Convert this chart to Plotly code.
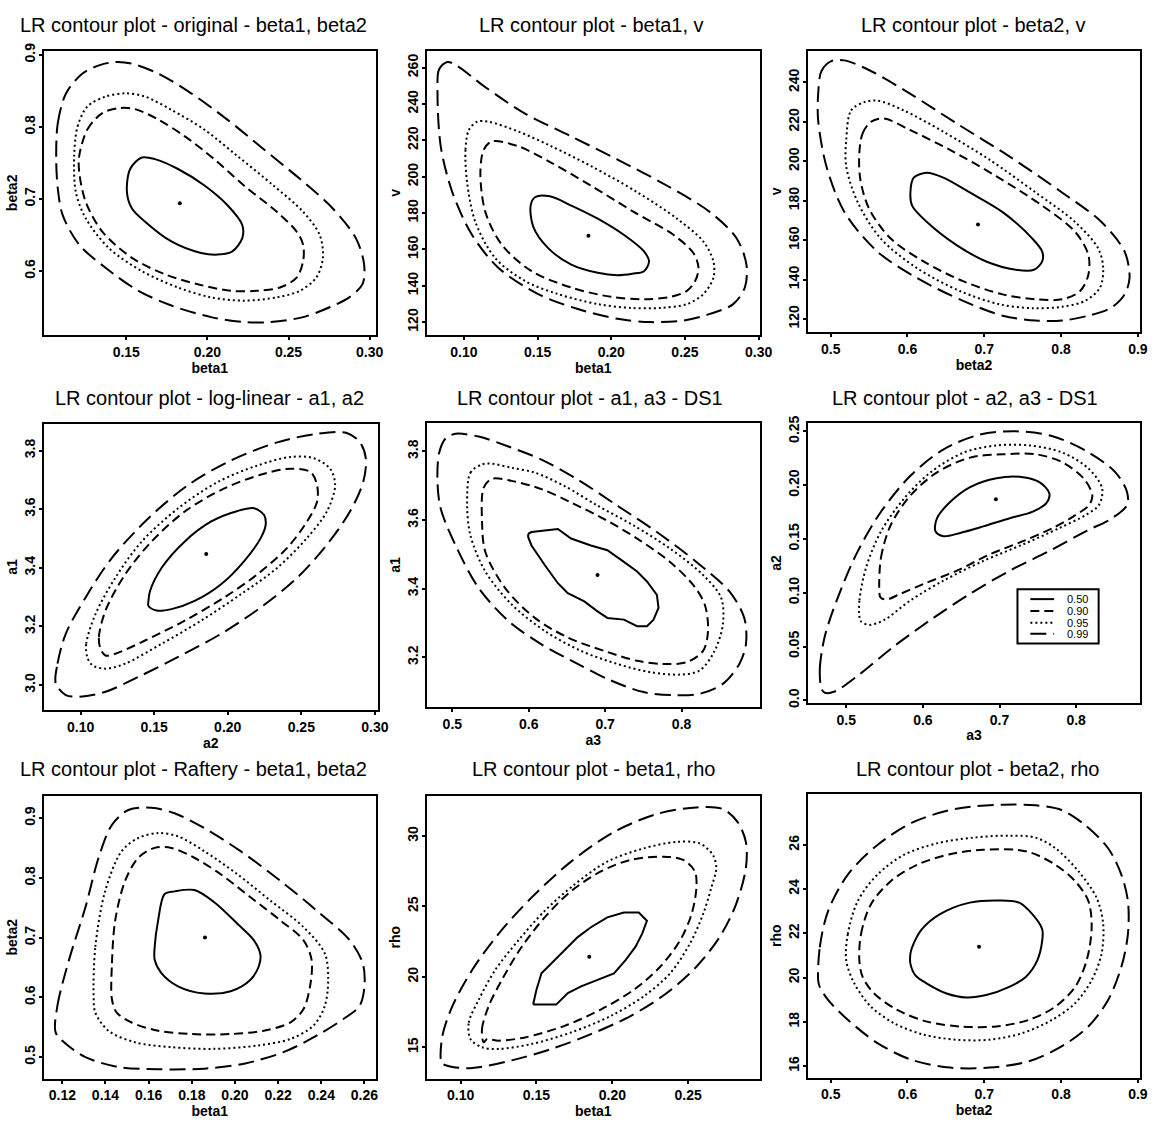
import plotly.graph_objects as go

W, H = 1172, 1130

LEVELS = ["0.50", "0.90", "0.95", "0.99"]
DASH = {"0.50": "solid", "0.90": "9px,5px", "0.95": "2px,3px", "0.99": "16px,7px"}

# ---------------------------------------------------------------------------
# Panel 1: original model, beta1 vs beta2
P1_MLE = (0.183, 0.694)
P1_050 = [(0.1504, 0.7096), (0.1524, 0.7416), (0.1596, 0.7575), (0.1677, 0.7553), (0.1819, 0.7416),
          (0.1982, 0.7187), (0.2124, 0.6913), (0.2215, 0.6639), (0.2215, 0.6457), (0.2154, 0.6274),
          (0.2063, 0.6228), (0.1961, 0.6251), (0.1778, 0.6411), (0.1616, 0.6685), (0.1535, 0.6868)]
P1_090 = [(0.1210, 0.7598), (0.1260, 0.7963), (0.1352, 0.8192), (0.1453, 0.8260), (0.1555, 0.8247),
          (0.1697, 0.8101), (0.1859, 0.7872), (0.2042, 0.7553), (0.2225, 0.7187), (0.2428, 0.6822),
          (0.2550, 0.6548), (0.2590, 0.6365), (0.2590, 0.6137), (0.2550, 0.5909), (0.2448, 0.5772),
          (0.2306, 0.5726), (0.2144, 0.5726), (0.1940, 0.5817), (0.1738, 0.5955), (0.1535, 0.6183),
          (0.1352, 0.6548), (0.1250, 0.6959), (0.1210, 0.7370)]
P1_095 = [(0.1179, 0.7598), (0.1200, 0.8009), (0.1260, 0.8283), (0.1372, 0.8420), (0.1494, 0.8466),
          (0.1616, 0.8420), (0.1778, 0.8237), (0.1981, 0.7963), (0.2184, 0.7598), (0.2407, 0.7187),
          (0.2590, 0.6822), (0.2692, 0.6502), (0.2712, 0.6183), (0.2671, 0.5909), (0.2570, 0.5726),
          (0.2428, 0.5635), (0.2225, 0.5589), (0.2022, 0.5635), (0.1819, 0.5772), (0.1595, 0.6000),
          (0.1392, 0.6320), (0.1250, 0.6731), (0.1189, 0.7096)]
P1_099 = [(0.1068, 0.7553), (0.1078, 0.8055), (0.1129, 0.8466), (0.1230, 0.8740), (0.1332, 0.8854),
          (0.1433, 0.8900), (0.1535, 0.8877), (0.1697, 0.8740), (0.1900, 0.8466), (0.2123, 0.8101),
          (0.2347, 0.7690), (0.2570, 0.7279), (0.2773, 0.6868), (0.2915, 0.6457), (0.2966, 0.6092),
          (0.2956, 0.5818), (0.2874, 0.5635), (0.2753, 0.5498), (0.2590, 0.5361), (0.2387, 0.5292),
          (0.2225, 0.5292), (0.2022, 0.5361), (0.1778, 0.5521), (0.1575, 0.5726), (0.1372, 0.6046),
          (0.1210, 0.6365), (0.1108, 0.6776), (0.1078, 0.7142)]

# Panel 2: beta1 vs v
P2_MLE = (0.1845, 167.5)
P2_050 = [(0.1453, 184.1), (0.1482, 188.7), (0.1583, 189.2), (0.1729, 184.1), (0.1908, 176.9),
          (0.2087, 167.9), (0.2222, 158.9), (0.2256, 153.4), (0.2222, 148.0), (0.2143, 146.6),
          (0.2043, 145.8), (0.1908, 147.1), (0.1729, 151.6), (0.1572, 160.7), (0.1471, 172.4)]
P2_090 = [(0.1112, 202.2), (0.1135, 214.9), (0.1191, 219.4), (0.1370, 216.7), (0.1594, 207.6),
          (0.1863, 195.0), (0.2155, 180.5), (0.2424, 167.9), (0.2558, 157.9), (0.2592, 149.8),
          (0.2569, 142.6), (0.2513, 137.2), (0.2401, 133.9), (0.2222, 132.6), (0.1998, 133.9),
          (0.1729, 139.0), (0.1460, 148.0), (0.1258, 162.5), (0.1146, 180.5)]
P2_095 = [(0.1022, 196.8), (0.1011, 214.9), (0.1034, 225.7), (0.1090, 230.2), (0.1168, 230.2),
          (0.1370, 224.8), (0.1594, 216.7), (0.1863, 205.8), (0.2177, 191.4), (0.2446, 176.9),
          (0.2625, 164.3), (0.2693, 153.4), (0.2693, 144.4), (0.2625, 135.4), (0.2513, 129.9),
          (0.2334, 127.8), (0.2132, 127.8), (0.1908, 129.9), (0.1639, 135.4), (0.1415, 142.6),
          (0.1213, 155.2), (0.1078, 175.1)]
P2_099 = [(0.0821, 247.4), (0.0832, 259.1), (0.0888, 263.1), (0.0955, 260.9), (0.1146, 249.2),
          (0.1415, 234.7), (0.1729, 222.1), (0.2043, 209.4), (0.2379, 195.0), (0.2670, 180.5),
          (0.2850, 166.1), (0.2917, 151.6), (0.2906, 139.0), (0.2827, 129.9), (0.2670, 124.5),
          (0.2491, 120.9), (0.2267, 120.0), (0.2043, 121.8), (0.1773, 127.2), (0.1504, 135.4),
          (0.1235, 149.8), (0.1056, 167.9), (0.0922, 191.4), (0.0843, 216.7)]

# Panel 3: beta2 vs v
P3_MLE = (0.6918, 168.0)
P3_050 = [(0.6038, 184.2), (0.6081, 191.7), (0.6253, 194.2), (0.6467, 191.7), (0.6810, 184.2),
          (0.7239, 174.2), (0.7626, 160.8), (0.7754, 154.2), (0.7754, 149.2), (0.7647, 145.0),
          (0.7411, 145.0), (0.7025, 149.2), (0.6639, 157.5), (0.6253, 169.2), (0.6060, 177.5)]
P3_090 = [(0.5373, 204.2), (0.5416, 214.2), (0.5523, 220.0), (0.5695, 221.7), (0.6038, 215.8),
          (0.6553, 205.8), (0.7154, 192.5), (0.7754, 177.5), (0.8183, 164.2), (0.8355, 152.5),
          (0.8355, 142.5), (0.8248, 134.2), (0.8012, 130.0), (0.7668, 130.0), (0.7239, 132.5),
          (0.6724, 139.2), (0.6210, 149.2), (0.5781, 160.8), (0.5502, 175.8), (0.5386, 190.8)]
P3_095 = [(0.5202, 210.8), (0.5266, 225.8), (0.5438, 230.0), (0.5609, 230.8), (0.5952, 225.8),
          (0.6467, 215.0), (0.7068, 200.8), (0.7668, 184.2), (0.8183, 169.2), (0.8483, 155.8),
          (0.8548, 145.8), (0.8505, 135.8), (0.8312, 129.2), (0.8012, 126.2), (0.7625, 125.5),
          (0.7196, 127.5), (0.6682, 134.2), (0.6124, 145.8), (0.5652, 160.8), (0.5352, 179.2),
          (0.5202, 197.5)]
P3_099 = [(0.4837, 234.2), (0.4880, 245.8), (0.5009, 250.8), (0.5180, 251.2), (0.5523, 245.8),
          (0.6038, 234.2), (0.6639, 219.2), (0.7325, 202.5), (0.8012, 184.2), (0.8526, 169.2),
          (0.8827, 154.2), (0.8891, 140.8), (0.8827, 132.5), (0.8655, 125.8), (0.8355, 121.7),
          (0.8012, 119.2), (0.7668, 119.2), (0.7239, 121.7), (0.6724, 129.2), (0.6124, 140.8),
          (0.5609, 154.2), (0.5180, 174.2), (0.4944, 197.5), (0.4837, 220.8)]

# Panel 4: log-linear model, a2 vs a1
P4_MLE = (0.1854, 3.447)
P4_050 = [(0.1461, 3.287), (0.1472, 3.321), (0.1551, 3.400), (0.1708, 3.490), (0.1888, 3.558),
          (0.2067, 3.594), (0.2180, 3.603), (0.2247, 3.580), (0.2258, 3.547), (0.2225, 3.502),
          (0.2112, 3.423), (0.1955, 3.344), (0.1775, 3.287), (0.1618, 3.259), (0.1517, 3.254),
          (0.1461, 3.270)]
P4_090 = [(0.1135, 3.124), (0.1124, 3.163), (0.1169, 3.254), (0.1303, 3.378), (0.1483, 3.490),
          (0.1708, 3.592), (0.1977, 3.671), (0.2247, 3.721), (0.2427, 3.738), (0.2562, 3.727),
          (0.2607, 3.682), (0.2607, 3.625), (0.2539, 3.558), (0.2404, 3.468), (0.2202, 3.378),
          (0.1977, 3.299), (0.1708, 3.220), (0.1438, 3.152), (0.1236, 3.107), (0.1169, 3.101)]
P4_095 = [(0.1045, 3.096), (0.1038, 3.141), (0.1101, 3.242), (0.1236, 3.366), (0.1416, 3.490),
          (0.1663, 3.603), (0.1933, 3.693), (0.2202, 3.749), (0.2427, 3.778), (0.2584, 3.774),
          (0.2696, 3.738), (0.2730, 3.682), (0.2674, 3.592), (0.2539, 3.502), (0.2337, 3.400),
          (0.2090, 3.310), (0.1820, 3.220), (0.1551, 3.141), (0.1303, 3.073), (0.1169, 3.056),
          (0.1079, 3.068)]
P4_099 = [(0.0831, 3.006), (0.0843, 3.073), (0.0899, 3.175), (0.1034, 3.299), (0.1213, 3.434),
          (0.1461, 3.569), (0.1730, 3.682), (0.2022, 3.766), (0.2337, 3.828), (0.2607, 3.857),
          (0.2809, 3.860), (0.2899, 3.828), (0.2939, 3.772), (0.2921, 3.693), (0.2831, 3.592),
          (0.2674, 3.479), (0.2472, 3.366), (0.2225, 3.265), (0.1955, 3.175), (0.1663, 3.096),
          (0.1393, 3.028), (0.1169, 2.977), (0.1011, 2.961), (0.0899, 2.966)]

# Panel 5: a3 vs a1, data set DS1
P5_MLE = (0.690, 3.440)
P5_050 = [(0.5993, 3.560), (0.6036, 3.565), (0.6381, 3.574), (0.6554, 3.546), (0.6813, 3.526),
          (0.7029, 3.512), (0.7245, 3.478), (0.7418, 3.450), (0.7547, 3.421), (0.7677, 3.382),
          (0.7698, 3.344), (0.7633, 3.310), (0.7547, 3.291), (0.7418, 3.291), (0.7245, 3.310),
          (0.7029, 3.315), (0.6900, 3.334), (0.6727, 3.363), (0.6511, 3.387), (0.6381, 3.416),
          (0.6209, 3.469), (0.6036, 3.526), (0.5993, 3.550)]
P5_090 = [(0.5389, 3.594), (0.5410, 3.694), (0.5518, 3.720), (0.5777, 3.714), (0.6166, 3.690),
          (0.6554, 3.651), (0.6986, 3.603), (0.7418, 3.546), (0.7849, 3.478), (0.8151, 3.411),
          (0.8303, 3.354), (0.8346, 3.277), (0.8281, 3.219), (0.8065, 3.186), (0.7763, 3.181),
          (0.7418, 3.190), (0.6986, 3.219), (0.6511, 3.258), (0.6079, 3.315), (0.5691, 3.402),
          (0.5432, 3.507)]
P5_095 = [(0.5194, 3.642), (0.5237, 3.738), (0.5389, 3.762), (0.5518, 3.764), (0.5777, 3.752),
          (0.6079, 3.738), (0.6468, 3.699), (0.6899, 3.642), (0.7374, 3.584), (0.7849, 3.517),
          (0.8281, 3.440), (0.8518, 3.373), (0.8540, 3.296), (0.8432, 3.219), (0.8238, 3.162),
          (0.7979, 3.150), (0.7590, 3.157), (0.7159, 3.181), (0.6684, 3.219), (0.6209, 3.277),
          (0.5777, 3.354), (0.5432, 3.450), (0.5237, 3.555)]
P5_099 = [(0.4806, 3.709), (0.4827, 3.795), (0.4914, 3.838), (0.5043, 3.851), (0.5345, 3.843),
          (0.5734, 3.814), (0.6166, 3.776), (0.6640, 3.718), (0.7158, 3.642), (0.7676, 3.565),
          (0.8194, 3.478), (0.8626, 3.392), (0.8820, 3.315), (0.8842, 3.238), (0.8756, 3.181),
          (0.8540, 3.123), (0.8238, 3.094), (0.7892, 3.090), (0.7504, 3.099), (0.7072, 3.133),
          (0.6640, 3.181), (0.6166, 3.238), (0.5734, 3.306), (0.5345, 3.402), (0.5043, 3.526),
          (0.4849, 3.632)]

# Panel 6: a3 vs a2, data set DS1
P6_MLE = (0.6952, 0.187)
P6_050 = [(0.6164, 0.1571), (0.6185, 0.1693), (0.6358, 0.1845), (0.6616, 0.1982), (0.6961, 0.2065),
          (0.7306, 0.2074), (0.7521, 0.2028), (0.7651, 0.1922), (0.7608, 0.1830), (0.7435, 0.1754),
          (0.7134, 0.1693), (0.6789, 0.1617), (0.6487, 0.1556), (0.6271, 0.1525)]
P6_090 = [(0.5431, 0.1022), (0.5453, 0.1327), (0.5582, 0.1632), (0.5840, 0.1906), (0.6185, 0.2119),
          (0.6616, 0.2256), (0.7047, 0.2287), (0.7478, 0.2287), (0.7823, 0.2211), (0.8103, 0.2058),
          (0.8211, 0.1906), (0.8168, 0.1815), (0.7996, 0.1723), (0.7694, 0.1601), (0.7306, 0.1479),
          (0.6875, 0.1357), (0.6444, 0.1205), (0.6013, 0.1083), (0.5711, 0.0991), (0.5517, 0.0936),
          (0.5444, 0.0960)]
P6_095 = [(0.5172, 0.0777), (0.5172, 0.0930), (0.5259, 0.1235), (0.5453, 0.1570), (0.5754, 0.1875),
          (0.6099, 0.2119), (0.6530, 0.2302), (0.6961, 0.2369), (0.7392, 0.2369), (0.7823, 0.2302),
          (0.8168, 0.2150), (0.8340, 0.1967), (0.8297, 0.1815), (0.8125, 0.1723), (0.7780, 0.1601),
          (0.7306, 0.1449), (0.6789, 0.1296), (0.6271, 0.1113), (0.5840, 0.0930), (0.5496, 0.0747),
          (0.5302, 0.0701), (0.5194, 0.0732)]
P6_099 = [(0.4677, 0.0107), (0.4655, 0.0290), (0.4720, 0.0595), (0.4892, 0.0960), (0.5151, 0.1387),
          (0.5453, 0.1753), (0.5840, 0.2089), (0.6271, 0.2333), (0.6746, 0.2470), (0.7220, 0.2500),
          (0.7694, 0.2455), (0.8168, 0.2302), (0.8513, 0.2119), (0.8664, 0.1936), (0.8664, 0.1815),
          (0.8470, 0.1693), (0.8125, 0.1571), (0.7651, 0.1388), (0.7134, 0.1205), (0.6616, 0.0991),
          (0.6099, 0.0747), (0.5625, 0.0503), (0.5151, 0.0229), (0.4849, 0.0082), (0.4720, 0.0070)]

# Panel 7: Raftery model, beta1 vs beta2
P7_MLE = (0.1861, 0.7003)
P7_050 = [(0.1628, 0.6848), (0.1644, 0.7290), (0.1674, 0.7731), (0.1720, 0.7775), (0.1812, 0.7797),
          (0.1904, 0.7593), (0.2011, 0.7234), (0.2087, 0.6959), (0.2118, 0.6710), (0.2110, 0.6517),
          (0.2072, 0.6296), (0.1980, 0.6103), (0.1858, 0.6065), (0.1736, 0.6186), (0.1659, 0.6407),
          (0.1628, 0.6628)]
P7_090 = [(0.1430, 0.5965), (0.1430, 0.6572), (0.1445, 0.7290), (0.1491, 0.7952), (0.1552, 0.8338),
          (0.1628, 0.8503), (0.1705, 0.8503), (0.1812, 0.8338), (0.1934, 0.8062), (0.2072, 0.7676),
          (0.2210, 0.7290), (0.2317, 0.6959), (0.2355, 0.6628), (0.2348, 0.6186), (0.2317, 0.5800),
          (0.2256, 0.5579), (0.2133, 0.5441), (0.1980, 0.5386), (0.1797, 0.5386), (0.1644, 0.5441),
          (0.1521, 0.5579), (0.1452, 0.5745)]
P7_095 = [(0.1345, 0.6021), (0.1353, 0.6848), (0.1399, 0.7786), (0.1475, 0.8448), (0.1552, 0.8669),
          (0.1644, 0.8752), (0.1736, 0.8697), (0.1858, 0.8448), (0.2011, 0.8062), (0.2164, 0.7621),
          (0.2317, 0.7179), (0.2416, 0.6738), (0.2432, 0.6296), (0.2416, 0.5855), (0.2363, 0.5524),
          (0.2256, 0.5303), (0.2103, 0.5193), (0.1904, 0.5138), (0.1705, 0.5166), (0.1537, 0.5248),
          (0.1414, 0.5441), (0.1353, 0.5745)]
P7_099 = [(0.1169, 0.5414), (0.1177, 0.5855), (0.1231, 0.6628), (0.1307, 0.7510), (0.1368, 0.8338),
          (0.1430, 0.8889), (0.1506, 0.9138), (0.1613, 0.9176), (0.1720, 0.9083), (0.1858, 0.8834),
          (0.2026, 0.8448), (0.2210, 0.7952), (0.2378, 0.7455), (0.2531, 0.6959), (0.2592, 0.6572),
          (0.2600, 0.6186), (0.2577, 0.5855), (0.2501, 0.5634), (0.2378, 0.5359), (0.2225, 0.5083),
          (0.2042, 0.4890), (0.1858, 0.4807), (0.1644, 0.4796), (0.1460, 0.4834), (0.1307, 0.5000),
          (0.1208, 0.5248)]

# Panel 8: beta1 vs rho
P8_MLE = (0.1848, 21.42)
P8_050 = [(0.1478, 18.03), (0.1500, 19.08), (0.1533, 20.25), (0.1598, 20.95), (0.1685, 21.88),
          (0.1772, 22.82), (0.1859, 23.52), (0.1967, 24.22), (0.2076, 24.57), (0.2174, 24.57),
          (0.2228, 23.98), (0.2196, 23.05), (0.2152, 22.12), (0.2087, 21.18), (0.2011, 20.25),
          (0.1902, 19.78), (0.1794, 19.32), (0.1707, 18.85), (0.1630, 18.03), (0.1554, 18.03)]
P8_090 = [(0.1152, 15.35), (0.1141, 16.28), (0.1185, 17.92), (0.1272, 19.78), (0.1402, 22.12),
          (0.1554, 24.22), (0.1728, 26.08), (0.1924, 27.48), (0.2120, 28.30), (0.2337, 28.53),
          (0.2467, 28.30), (0.2544, 27.48), (0.2554, 26.32), (0.2522, 24.45), (0.2446, 22.58),
          (0.2315, 20.72), (0.2141, 19.08), (0.1924, 17.68), (0.1685, 16.52), (0.1424, 15.70),
          (0.1250, 15.47), (0.1174, 15.58)]
P8_095 = [(0.1065, 15.58), (0.1054, 16.75), (0.1120, 18.38), (0.1228, 20.48), (0.1380, 22.58),
          (0.1554, 24.68), (0.1750, 26.55), (0.1967, 28.18), (0.2207, 29.12), (0.2424, 29.58),
          (0.2576, 29.47), (0.2663, 28.65), (0.2685, 27.72), (0.2652, 26.32), (0.2598, 24.45),
          (0.2511, 22.35), (0.2381, 20.25), (0.2207, 18.62), (0.1989, 17.22), (0.1728, 16.05),
          (0.1467, 15.23), (0.1250, 14.88), (0.1141, 15.00)]
P8_099 = [(0.0870, 14.07), (0.0880, 15.82), (0.0946, 17.92), (0.1076, 20.48), (0.1250, 23.05),
          (0.1467, 25.62), (0.1728, 28.18), (0.2011, 30.28), (0.2294, 31.56), (0.2554, 32.03),
          (0.2728, 31.91), (0.2826, 30.98), (0.2880, 29.58), (0.2880, 27.72), (0.2815, 25.15),
          (0.2707, 22.82), (0.2554, 20.72), (0.2359, 18.85), (0.2120, 17.22), (0.1859, 15.93),
          (0.1598, 14.88), (0.1337, 14.07), (0.1076, 13.53), (0.0946, 13.60), (0.0880, 13.83)]

# Panel 9: beta2 vs rho
P9_MLE = (0.6931, 21.40)
P9_050 = [(0.6038, 21.07), (0.6060, 21.37), (0.6188, 22.19), (0.6424, 22.87), (0.6810, 23.39),
          (0.7197, 23.49), (0.7454, 23.39), (0.7625, 22.87), (0.7754, 22.19), (0.7754, 21.67),
          (0.7690, 20.78), (0.7540, 20.03), (0.7325, 19.58), (0.7025, 19.21), (0.6767, 19.10),
          (0.6510, 19.28), (0.6253, 19.73), (0.6103, 20.10), (0.6038, 20.63)]
P9_090 = [(0.5373, 20.78), (0.5395, 21.97), (0.5523, 23.31), (0.5781, 24.36), (0.6124, 25.10),
          (0.6553, 25.58), (0.6982, 25.78), (0.7411, 25.78), (0.7625, 25.63), (0.7926, 25.10),
          (0.8183, 24.36), (0.8355, 23.46), (0.8398, 22.27), (0.8333, 20.78), (0.8183, 19.58),
          (0.7926, 18.69), (0.7583, 18.09), (0.7154, 17.79), (0.6682, 17.79), (0.6253, 18.01),
          (0.5867, 18.54), (0.5566, 19.28), (0.5416, 20.03)]
P9_095 = [(0.5202, 20.78), (0.5223, 21.97), (0.5352, 23.46), (0.5609, 24.66), (0.5952, 25.55),
          (0.6381, 26.07), (0.6853, 26.33), (0.7325, 26.42), (0.7668, 26.33), (0.7926, 25.85),
          (0.8226, 24.81), (0.8462, 23.61), (0.8548, 22.42), (0.8526, 21.07), (0.8398, 19.88),
          (0.8183, 18.84), (0.7883, 18.09), (0.7497, 17.49), (0.7068, 17.19), (0.6639, 17.19),
          (0.6210, 17.42), (0.5824, 17.94), (0.5523, 18.69), (0.5309, 19.73)]
P9_099 = [(0.4837, 19.88), (0.4858, 21.37), (0.4966, 23.01), (0.5223, 24.66), (0.5609, 26.00),
          (0.6081, 27.04), (0.6639, 27.64), (0.7239, 27.82), (0.7668, 27.79), (0.8012, 27.57),
          (0.8312, 26.90), (0.8612, 25.85), (0.8784, 24.66), (0.8870, 23.46), (0.8870, 21.97),
          (0.8784, 20.48), (0.8612, 18.99), (0.8355, 17.79), (0.8012, 16.90), (0.7583, 16.22),
          (0.7068, 15.93), (0.6553, 15.93), (0.6038, 16.30), (0.5609, 17.04), (0.5223, 18.09),
          (0.4966, 18.99), (0.4858, 19.58)]

# Tick values and labels
TICKS_B1_A = [0.15, 0.20, 0.25, 0.30]
TICKS_B1_B = [0.10, 0.15, 0.20, 0.25, 0.30]
TICKS_B1_C = [0.12, 0.14, 0.16, 0.18, 0.20, 0.22, 0.24, 0.26]
TICKS_B1_D = [0.10, 0.15, 0.20, 0.25]
TICKS_B2_X = [0.5, 0.6, 0.7, 0.8, 0.9]
TICKS_B2_Y = [0.6, 0.7, 0.8, 0.9]
TICKS_B2_Y7 = [0.5, 0.6, 0.7, 0.8, 0.9]
TICKS_V2 = [120, 140, 160, 180, 200, 220, 240, 260]
TICKS_V3 = [120, 140, 160, 180, 200, 220, 240]
TICKS_A1 = [3.0, 3.2, 3.4, 3.6, 3.8]
TICKS_A1_5 = [3.2, 3.4, 3.6, 3.8]
TICKS_A2_X = [0.10, 0.15, 0.20, 0.25, 0.30]
TICKS_A2_Y = [0.0, 0.05, 0.10, 0.15, 0.20, 0.25]
TICKS_A2_Y_TEXT = ["0.0", "0.05", "0.10", "0.15", "0.20", "0.25"]
TICKS_A3 = [0.5, 0.6, 0.7, 0.8]
TICKS_RHO8 = [15, 20, 25, 30]
TICKS_RHO9 = [16, 18, 20, 22, 24, 26]


def fmt(vals, nd):
    return [f"{v:.{nd}f}" for v in vals]


# pixel geometry of each panel box: left, right, top, bottom; title centre x, title centre y
PANELS = [
    dict(title="LR contour plot - original - beta1, beta2", xlab="beta1", ylab="beta2",
         mle=P1_MLE, curves=[P1_050, P1_090, P1_095, P1_099], xr=[0.099, 0.304], yr=[0.511, 0.906],
         xt=TICKS_B1_A, xtt=fmt(TICKS_B1_A, 2), yt=TICKS_B2_Y, ytt=fmt(TICKS_B2_Y, 1),
         box=(44, 380, 43, 331), tpos=(195, 17), poly=False),
    dict(title="LR contour plot - beta1, v", xlab="beta1", ylab="v",
         mle=P2_MLE, curves=[P2_050, P2_090, P2_095, P2_099], xr=[0.0747, 0.301], yr=[112.8, 269.4],
         xt=TICKS_B1_B, xtt=fmt(TICKS_B1_B, 2), yt=TICKS_V2, ytt=fmt(TICKS_V2, 0),
         box=(431, 768, 43, 331), tpos=(598, 17), poly=False),
    dict(title="LR contour plot - beta2, v", xlab="beta2", ylab="v",
         mle=P3_MLE, curves=[P3_050, P3_090, P3_095, P3_099], xr=[0.470, 0.903], yr=[113.3, 256.2],
         xt=TICKS_B2_X, xtt=fmt(TICKS_B2_X, 1), yt=TICKS_V3, ytt=fmt(TICKS_V3, 0),
         box=(816, 1152, 43, 328), tpos=(984, 17), poly=False),
    dict(title="LR contour plot - log-linear - a1, a2", xlab="a2", ylab="a1",
         mle=P4_MLE, curves=[P4_050, P4_090, P4_095, P4_099], xr=[0.0748, 0.3022], yr=[2.9155, 3.890],
         xt=TICKS_A2_X, xtt=fmt(TICKS_A2_X, 2), yt=TICKS_A1, ytt=fmt(TICKS_A1, 1),
         box=(44, 382, 421, 710), tpos=(212, 395), poly=False),
    dict(title="LR contour plot - a1, a3 - DS1", xlab="a3", ylab="a1",
         mle=P5_MLE, curves=[P5_050, P5_090, P5_095, P5_099], xr=[0.4663, 0.9028], yr=[3.056, 3.882],
         xt=TICKS_A3, xtt=fmt(TICKS_A3, 1), yt=TICKS_A1_5, ytt=fmt(TICKS_A1_5, 1),
         box=(431, 768, 420, 707), tpos=(596, 395), poly=True),
    dict(title="LR contour plot - a2, a3 - DS1", xlab="a3", ylab="a2",
         mle=P6_MLE, curves=[P6_050, P6_090, P6_095, P6_099], xr=[0.4496, 0.8836], yr=[-0.0024, 0.2576],
         xt=TICKS_A3, xtt=fmt(TICKS_A3, 1), yt=TICKS_A2_Y, ytt=TICKS_A2_Y_TEXT,
         box=(816, 1152, 420, 703), tpos=(975, 395), poly=False),
    dict(title="LR contour plot - Raftery - beta1, beta2", xlab="beta1", ylab="beta2",
         mle=P7_MLE, curves=[P7_050, P7_090, P7_095, P7_099], xr=[0.1113, 0.2654], yr=[0.4641, 0.9375],
         xt=TICKS_B1_C, xtt=fmt(TICKS_B1_C, 2), yt=TICKS_B2_Y7, ytt=fmt(TICKS_B2_Y7, 1),
         box=(44, 380, 797, 1083), tpos=(195, 770), poly=False),
    dict(title="LR contour plot - beta1, rho", xlab="beta1", ylab="rho",
         mle=P8_MLE, curves=[P8_050, P8_090, P8_095, P8_099], xr=[0.0776, 0.2974], yr=[12.78, 32.85],
         xt=TICKS_B1_D, xtt=fmt(TICKS_B1_D, 2), yt=TICKS_RHO8, ytt=fmt(TICKS_RHO8, 0),
         box=(431, 768, 797, 1083), tpos=(600, 770), poly=True),
    dict(title="LR contour plot - beta2, rho", xlab="beta2", ylab="rho",
         mle=P9_MLE, curves=[P9_050, P9_090, P9_095, P9_099], xr=[0.470, 0.903], yr=[15.48, 28.31],
         xt=TICKS_B2_X, xtt=fmt(TICKS_B2_X, 1), yt=TICKS_RHO9, ytt=fmt(TICKS_RHO9, 0),
         box=(816, 1152, 795, 1082), tpos=(988, 770), poly=False),
]

SANS = "Liberation Sans, Arial, Helvetica, sans-serif"
TICK_FONT = dict(family=SANS, size=14, color="black", weight="bold")
LAB_FONT = dict(family=SANS, size=14, color="black", weight="bold")
TITLE_FONT = dict(family=SANS, size=20, color="black")

fig = go.Figure()
layout = dict(width=W, height=H, margin=dict(l=0, r=0, t=0, b=0),
              paper_bgcolor="white", plot_bgcolor="white", showlegend=False)
annotations = []
shapes = []

for i, p in enumerate(PANELS, start=1):
    xa, ya = f"x{i}", f"y{i}"
    for lvl, pts in zip(LEVELS, p["curves"]):
        xs = [q[0] for q in pts] + [pts[0][0]]
        ys = [q[1] for q in pts] + [pts[0][1]]
        shape = "linear" if (p["poly"] and lvl == "0.50") else "spline"
        fig.add_trace(go.Scatter(
            x=xs, y=ys, mode="lines", name=lvl, xaxis=xa, yaxis=ya,
            line=dict(color="black", width=2, dash=DASH[lvl], shape=shape, smoothing=0.9),
            hoverinfo="skip"))
    fig.add_trace(go.Scatter(x=[p["mle"][0]], y=[p["mle"][1]], mode="markers", xaxis=xa, yaxis=ya,
                             marker=dict(color="black", size=4), hoverinfo="skip"))

    l, r, t, b = p["box"]
    common = dict(showgrid=False, zeroline=False, showline=True, linecolor="black", linewidth=2,
                  mirror=True, ticks="outside", ticklen=3, tickwidth=2, tickcolor="black",
                  tickfont=TICK_FONT, fixedrange=True)
    layout["xaxis" if i == 1 else f"xaxis{i}"] = dict(
        common, domain=[l / W, r / W], anchor=ya, range=p["xr"],
        tickvals=p["xt"], ticktext=p["xtt"],
        title=dict(text=p["xlab"], font=LAB_FONT, standoff=3))
    layout["yaxis" if i == 1 else f"yaxis{i}"] = dict(
        common, domain=[1 - b / H, 1 - t / H], anchor=xa, range=p["yr"],
        tickvals=p["yt"], ticktext=p["ytt"], tickangle=-90, ticklabelstandoff=-2,
        title=dict(text=p["ylab"], font=LAB_FONT, standoff=1))
    annotations.append(dict(text=p["title"], x=p["tpos"][0] / W, y=1 - p["tpos"][1] / H,
                            xref="paper", yref="paper", xanchor="center", yanchor="middle",
                            showarrow=False, font=TITLE_FONT))

# legend box drawn inside the a2/a3 panel
LEG_BOX = (1028, 1110, 588, 643)
LEG_ROWS = [598, 610, 622, 633]
shapes.append(dict(type="rect", xref="paper", yref="paper",
                   x0=LEG_BOX[0] / W, x1=LEG_BOX[1] / W, y0=1 - LEG_BOX[3] / H, y1=1 - LEG_BOX[2] / H,
                   line=dict(color="black", width=2), fillcolor="white"))
for lvl, row in zip(LEVELS, LEG_ROWS):
    shapes.append(dict(type="line", xref="paper", yref="paper",
                       x0=1041 / W, x1=1065 / W, y0=1 - row / H, y1=1 - row / H,
                       line=dict(color="black", width=2, dash=DASH[lvl])))
    annotations.append(dict(text=lvl, x=1089 / W, y=1 - row / H, xref="paper", yref="paper",
                            xanchor="center", yanchor="middle", showarrow=False,
                            font=dict(family=SANS, size=11, color="black")))

layout["annotations"] = annotations
layout["shapes"] = shapes
fig.update_layout(**layout)
fig.write_html("out.html")
